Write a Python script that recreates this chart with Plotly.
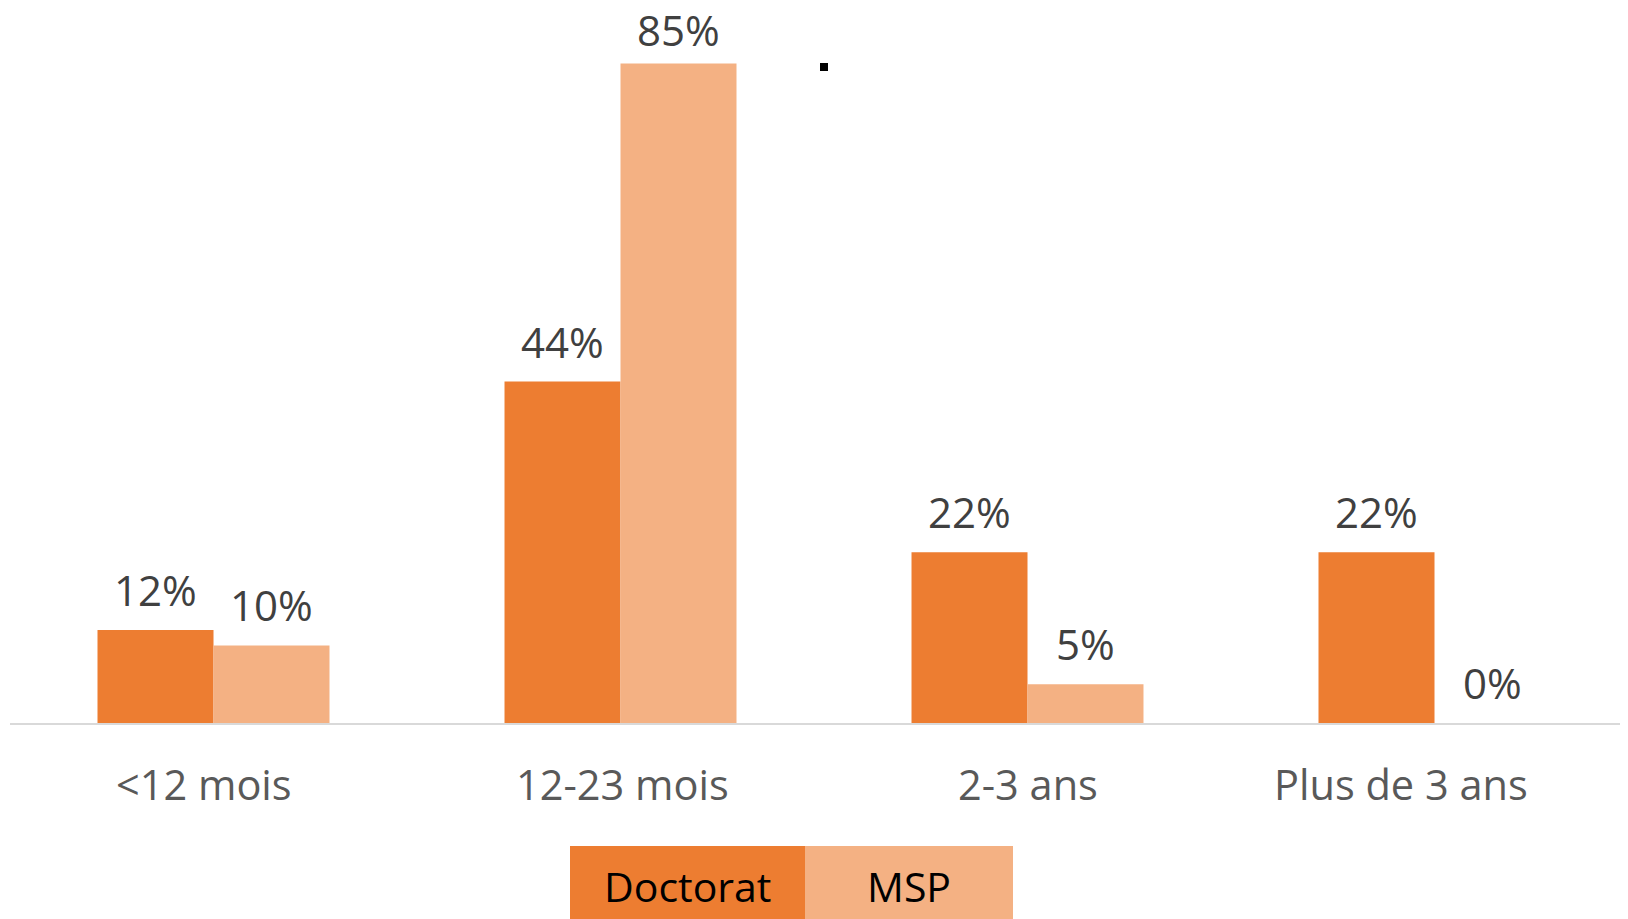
import plotly.graph_objects as go

categories = ["<12 mois", "12-23 mois", "2-3 ans", "Plus de 3 ans"]
doctorat = [12, 44, 22, 22]
msp = [10, 85, 5, 0]

DOC_COLOR = "#ED7D31"
MSP_COLOR = "#F4B183"
FONT = "Open Sans"

# the page body has an 8px margin, so the figure is 8px smaller than the window
W, H = 1620, 911
ml, mb = 2, 196
pw, ph = W - ml, H - mb
PX_PER_PCT = 7.76
BAR_PX = 116

fig = go.Figure()

series = [("Doctorat", doctorat, DOC_COLOR, -BAR_PX / 2), ("MSP", msp, MSP_COLOR, BAR_PX / 2)]
for name, vals, color, dx in series:
    fig.add_trace(go.Bar(
        x=categories,
        y=vals,
        name=name,
        marker=dict(color=color, line=dict(width=0)),
    ))
    # value labels above each bar (pushed down a little when near the top edge)
    for cat, v in zip(categories, vals):
        bar_top = (H - mb) - v * PX_PER_PCT
        fig.add_annotation(text=f"{v}%", xref="x", yref="y", x=cat, y=v,
                           xshift=dx, yshift=min(10, bar_top - 52),
                           xanchor="center", yanchor="bottom", showarrow=False,
                           font=dict(family=FONT, size=42, color="#404040"))


def px_x(x):
    return (x - ml) / pw


def px_y(y):
    return (H - mb - y) / ph


# category labels (slightly off-centre in the original)
label_shift = [-10, 2, 0, -34]
for cat, dx in zip(categories, label_shift):
    fig.add_annotation(text=cat, xref="x", yref="paper", x=cat, y=px_y(776),
                       xshift=dx, xanchor="center", yanchor="middle", showarrow=False,
                       font=dict(family=FONT, size=41.5, color="#595959"))

# legend drawn as filled boxes
legend_items = [("Doctorat", DOC_COLOR, 562, 797), ("MSP", MSP_COLOR, 797, 1005)]
for label, color, x0, x1 in legend_items:
    fig.add_shape(type="rect", xref="paper", yref="paper",
                  x0=px_x(x0), x1=px_x(x1), y0=px_y(H), y1=px_y(838),
                  fillcolor=color, line=dict(width=0), layer="above")
    fig.add_annotation(text=label, xref="paper", yref="paper",
                       x=px_x((x0 + x1) / 2), y=px_y(878),
                       xanchor="center", yanchor="middle", showarrow=False,
                       font=dict(family=FONT, size=41, color="#000000"))

# stray dot in the original
fig.add_shape(type="rect", xref="paper", yref="paper",
              x0=px_x(812), x1=px_x(820), y0=px_y(63), y1=px_y(55),
              fillcolor="#000000", line=dict(width=0))

fig.update_layout(
    width=W, height=H,
    margin=dict(l=ml, r=0, t=0, b=mb),
    barmode="group",
    bargap=0.43,
    bargroupgap=0,
    showlegend=False,
    plot_bgcolor="white",
    paper_bgcolor="white",
    font=dict(family=FONT),
)
fig.update_xaxes(
    range=[-0.5, -0.5 + pw / 407],
    showline=True, linecolor="#D9D9D9", linewidth=2,
    showgrid=False, zeroline=False,
    ticks="", showticklabels=False,
)
fig.update_yaxes(range=[0, (H - mb) / PX_PER_PCT], visible=False, showgrid=False, zeroline=False)

fig.write_html("out.html")
